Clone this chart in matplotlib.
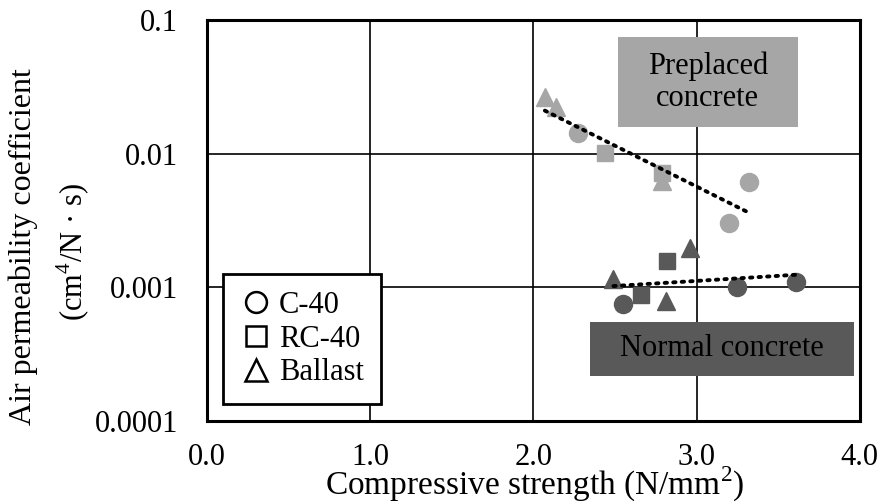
import numpy as np
import matplotlib
matplotlib.use("Agg")
import matplotlib.pyplot as plt
from matplotlib.lines import Line2D
from matplotlib.patches import Rectangle

plt.rcParams['font.family'] = ['Liberation Serif', 'DejaVu Serif']
plt.rcParams['mathtext.fontset'] = 'custom'
plt.rcParams['mathtext.rm'] = 'Liberation Serif'

# Preplaced concrete (light grey)
pre_c40_x = [2.27, 3.32, 3.20]
pre_c40_y = [0.0142, 0.0061, 0.00305]
pre_rc40_x = [2.44, 2.79]
pre_rc40_y = [0.0101, 0.0072]
pre_bal_x = [2.07, 2.14, 2.79]
pre_bal_y = [0.0265, 0.0223, 0.0063]

# Normal concrete (dark grey)
nor_c40_x = [2.55, 3.25, 3.61]
nor_c40_y = [0.00075, 0.00101, 0.0011]
nor_rc40_x = [2.66, 2.82]
nor_rc40_y = [0.00088, 0.00156]
nor_bal_x = [2.49, 2.81, 2.96]
nor_bal_y = [0.00116, 0.00079, 0.00198]

light = '#a6a6a6'
dark = '#595959'

fig = plt.figure(figsize=(8.81, 5.04), dpi=100)
ax = fig.add_axes([0.235, 0.165, 0.741, 0.795])


def trend(xs, ys):
    # exponential trend line, like a spreadsheet would draw
    x = np.concatenate(xs)
    y = np.concatenate(ys)
    k, b = np.polyfit(x, np.log10(y), 1)
    xx = np.array([x.min(), x.max()])
    ax.plot(xx, 10 ** (k * xx + b), color='black', ls=(0, (0.6, 1.6)),
            lw=2.8, dash_capstyle='round', zorder=4)


for col, groups in [(light, [(pre_c40_x, pre_c40_y), (pre_rc40_x, pre_rc40_y), (pre_bal_x, pre_bal_y)]),
                    (dark, [(nor_c40_x, nor_c40_y), (nor_rc40_x, nor_rc40_y), (nor_bal_x, nor_bal_y)])]:
    for (gx, gy), mk, ms in zip(groups, ['o', 's', '^'], [13, 11.5, 13]):
        ax.plot(gx, gy, ls='none', marker=mk, ms=ms, color=col, mec=col, zorder=3)
    trend([np.array(g[0]) for g in groups], [np.array(g[1]) for g in groups])

ax.set_yscale('log')
ax.set_xlim(0, 4)
ax.set_ylim(1e-4, 1e-1)
ax.set_xticks([0, 1, 2, 3, 4])
ax.set_xticklabels(['0.0', '1.0', '2.0', '3.0', '4.0'])
ax.set_yticks([1e-4, 1e-3, 1e-2, 1e-1])
ax.set_yticklabels(['0.0001', '0.001', '0.01', '0.1'])
ax.minorticks_off()
ax.tick_params(axis='x', length=0, pad=16, labelsize=22)
ax.tick_params(axis='y', length=0, pad=21, labelsize=22)
ax.grid(True, color='black', lw=1.2)
ax.set_axisbelow(True)
for s in ax.spines.values():
    s.set_linewidth(2.2)

# group label boxes
ax.add_patch(Rectangle((0.629, 0.733), 0.276, 0.224, transform=ax.transAxes,
                       facecolor=light, edgecolor='none', zorder=2))
ax.text(0.767, 0.845, 'Preplaced\nconcrete', transform=ax.transAxes,
        ha='center', va='center', fontsize=22, linespacing=1.1, zorder=5)
ax.add_patch(Rectangle((0.587, 0.112), 0.404, 0.135, transform=ax.transAxes,
                       facecolor=dark, edgecolor='none', zorder=2))
ax.text(0.789, 0.180, 'Normal concrete', transform=ax.transAxes,
        ha='center', va='center', fontsize=22, zorder=5)

handles = [Line2D([], [], ls='none', marker='o', ms=15, mfc='white', mec='black', mew=1.8),
           Line2D([], [], ls='none', marker='s', ms=15, mfc='white', mec='black', mew=1.8),
           Line2D([], [], ls='none', marker='^', ms=16, mfc='white', mec='black', mew=1.8)]
leg = ax.legend(handles, ['C-40', 'RC-40', 'Ballast'], loc='lower left',
                bbox_to_anchor=(0.024, 0.042), fontsize=22, frameon=True,
                fancybox=False, edgecolor='black', framealpha=1,
                handletextpad=0.2, handlelength=1.1, labelspacing=0.15,
                borderpad=0.55, borderaxespad=0)
leg.get_frame().set_linewidth(2)

fig.text(0.607, 0.018, 'Compressive strength (N/mm$^2$)', ha='center', va='baseline', fontsize=24)
fig.text(0.026, 0.51, 'Air permeability coefficient', rotation=90,
         ha='center', va='center', fontsize=23)
fig.text(0.083, 0.5, '(cm$^4$/N · s)', rotation=90,
         ha='center', va='center', fontsize=22)

fig.savefig('out.png', dpi=100)
